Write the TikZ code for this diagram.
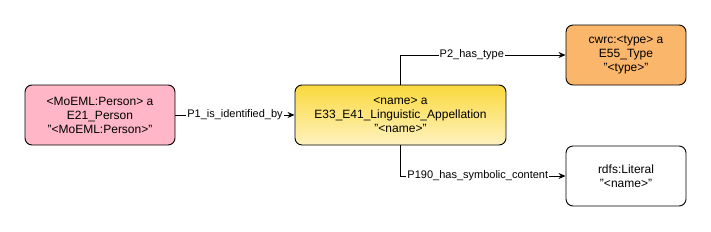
\documentclass[tikz,border=0pt]{standalone}
\usepackage{fontspec}
\setmainfont{Liberation Sans}
\usetikzlibrary{arrows.meta}
\definecolor{pinkf}{HTML}{FFB6C6}
\definecolor{orangef}{HTML}{FAB66A}
\definecolor{yeltop}{HTML}{FAD93C}
\definecolor{yelbot}{HTML}{FFF2C0}
\begin{document}
\begin{tikzpicture}[x=1pt,y=-1pt,
  box/.style={draw=black, line width=0.9pt, rounded corners=7pt, minimum width=150pt, minimum height=60pt, align=center, font=\fontsize{12}{14}\selectfont, inner sep=2pt},
  conn/.style={draw=black, line width=0.9pt, -{Stealth[length=7pt,width=6pt]}},
  lbl/.style={fill=white, inner sep=1pt, font=\fontsize{11}{13}\selectfont}]
\useasboundingbox (0,0) rectangle (711,231);
\node[box, fill=pinkf] (person) at (100,115) {<MoEML:Person> a\\E21\_Person\\"<MoEML:Person>"};
\node[box, minimum width=211pt, top color=yeltop, bottom color=yelbot] (name) at (400.5,115) {<name> a\\E33\_E41\_Linguistic\_Appellation\\"<name>"};
\node[box, fill=orangef, minimum width=120pt] (type) at (626,55) {cwrc:<type> a\\E55\_Type\\"<type>"};
\node[box, fill=white, minimum width=120pt] (lit) at (626,176) {rdfs:Literal\\"<name>"};
\coordinate (nt) at (400,85);
\coordinate (nb) at (400,145);
\draw[conn] (person) -- node[lbl] {P1\_is\_identified\_by} (name);
\draw[conn] (nt) |- node[lbl, pos=0.717] {P2\_has\_type} (type);
\draw[conn] (nb) |- node[lbl, pos=0.735] {P190\_has\_symbolic\_content} (lit);
\end{tikzpicture}
\end{document}
